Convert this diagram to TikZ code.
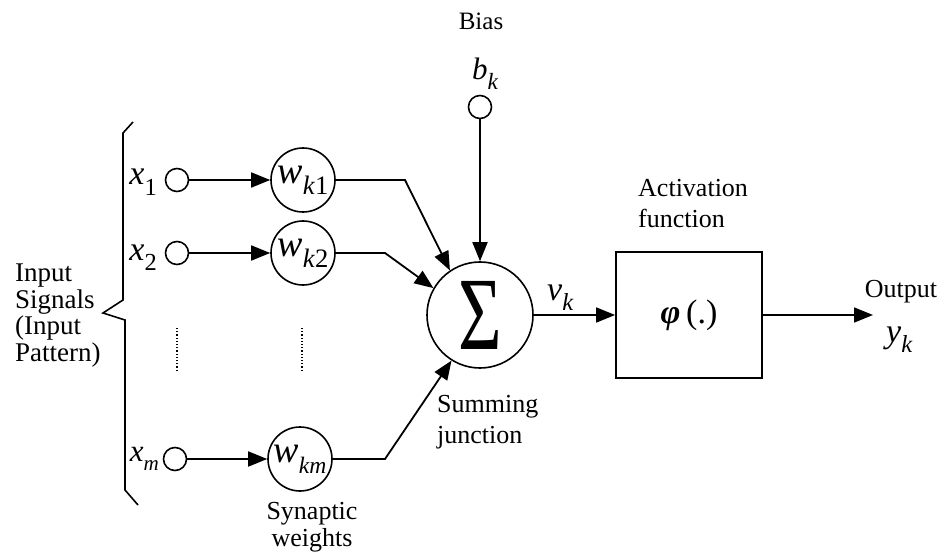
\documentclass[tikz,border=0pt]{standalone}
\usepackage{fontspec}
\usepackage{graphicx}
\setmainfont{Liberation Serif}
\usetikzlibrary{arrows.meta}

% italic symbol followed by a lowered, reduced index
\newcommand\symidx[3][0.65]{\textit{#2}\raisebox{-0.3em}{\scalebox{#1}{#3}}}

\tikzset{
  wire/.style={line width=1.8pt},
  arr/.style={wire, -{Triangle[length=19pt,width=15pt]}},
  port/.style={circle, draw, line width=1.6pt, minimum size=23pt, inner sep=0pt},
  weight/.style={circle, draw, line width=1.6pt, minimum size=64pt, inner sep=0pt,
                 font=\fontsize{38pt}{38pt}\selectfont},
  summer/.style={circle, draw, line width=1.6pt, minimum size=106pt, inner sep=0pt},
  actbox/.style={draw, line width=1.8pt, minimum width=146pt, minimum height=126pt,
                 inner sep=0pt, font=\fontsize{34pt}{34pt}\selectfont},
  txt/.style={inner sep=0pt, font=\fontsize{26pt}{31pt}\selectfont},
  sym/.style={inner sep=0pt, font=\fontsize{34pt}{34pt}\selectfont},
}

\begin{document}
\begin{tikzpicture}[x=1pt, y=-1pt]
  \useasboundingbox (0,0) rectangle (945,556);

  % input terminals
  \node[port] (x1) at (177,180) {};
  \node[port] (x2) at (177,253) {};
  \node[port] (xm) at (175,459) {};
  \node[sym, anchor=base east] (lx1) at (157,185) {\symidx[0.72]{x}{1}};
  \node[sym, anchor=base east] (lx2) at (157,260) {\symidx[0.72]{x}{2}};
  \node[sym, anchor=base east, font=\fontsize{31pt}{31pt}\selectfont] (lxm) at (159,461)
       {\symidx[0.68]{x}{\textit{m}}};

  % synaptic weights
  \node[weight] (w1) at (303,180) {\symidx[0.7]{w}{\textit{k}1}};
  \node[weight] (w2) at (303,253) {\symidx[0.7]{w}{\textit{k}2}};
  \node[weight] (wm) at (300,459) {\symidx[0.62]{w}{\textit{km}}};

  % summing junction, bias and activation
  \node[summer] (sum) at (480,315)
       {\fontsize{104pt}{104pt}\selectfont\scalebox{0.72}[1]{Σ}};
  \node[port] (bias) at (480,107) {};
  \node[sym, anchor=base west, font=\fontsize{31pt}{31pt}\selectfont] (lb) at (472,80)
       {\symidx[0.75]{b}{\textit{k}}};
  \node[actbox] (act) at (689,315) {\textbf{\textit{φ}}\,(.)};
  \node[sym, anchor=base west] (lv) at (547,300) {\symidx[0.72]{v}{\textit{k}}};
  \node[sym, anchor=base west] (ly) at (886,342) {\symidx[0.72]{y}{\textit{k}}};

  % captions
  \node[txt, anchor=base, font=\fontsize{25pt}{25pt}\selectfont] (tbias) at (481,30) {Bias};
  \node[txt, anchor=north west, align=left] (tact) at (638,179) {Activation\\function};
  \node[txt, anchor=base] (tout) at (901,297) {Output};
  \node[txt, anchor=north west, align=left] (tsum) at (437,395) {Summing\\junction};
  \node[txt, anchor=north, align=center, font=\fontsize{26pt}{27pt}\selectfont] (tsyn) at (312,502)
       {Synaptic\\weights};
  \node[txt, anchor=north west, align=left, font=\fontsize{27pt}{26.5pt}\selectfont] (tin) at (15,264)
       {Input\\Signals\\(Input\\Pattern)};

  % bends and free ends
  \coordinate (k1) at (405,180);
  \coordinate (k2) at (385,253);
  \coordinate (km) at (385,459);
  \coordinate (out) at (873,315);

  % connectors
  \draw[arr] (x1) -- (w1);
  \draw[arr] (x2) -- (w2);
  \draw[arr] (xm) -- (wm);
  \draw[arr] (w1) -- (k1) -- (sum.124);
  \draw[arr] (w2) -- (k2) -- (sum.150);
  \draw[arr] (wm) -- (km) -- (sum.238);
  \draw[arr] (bias) -- (sum);
  \draw[arr] (sum) -- (act);
  \draw[arr] (act) -- (out);

  % omitted rows
  \coordinate (d1a) at (177,328); \coordinate (d1b) at (177,372);
  \coordinate (d2a) at (302,328); \coordinate (d2b) at (302,372);
  \draw[dotted, line width=1.2pt] (d1a) -- (d1b);
  \draw[dotted, line width=1.2pt] (d2a) -- (d2b);

  % brace grouping the inputs
  \draw[line width=1.6pt, line join=miter]
    (133,122) -- (123,133) -- (123,300) -- (103,313) -- (125,320) -- (125,490) -- (138,505);
\end{tikzpicture}
\end{document}
